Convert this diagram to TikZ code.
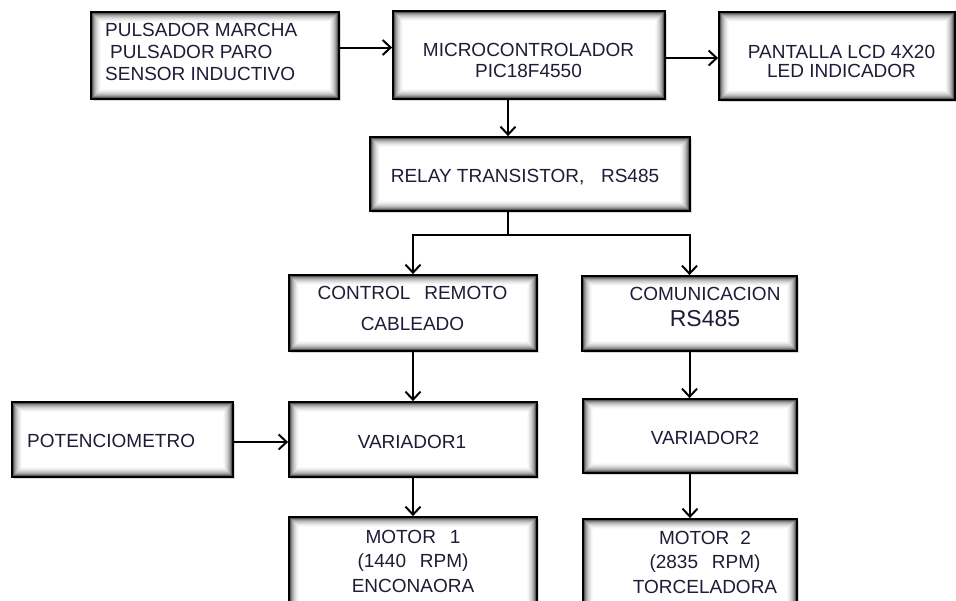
\documentclass[tikz,border=0pt]{standalone}
\usepackage{fontspec}
\setmainfont{Liberation Sans}
\usetikzlibrary{arrows.meta,shadows,calc}
\definecolor{txt}{RGB}{30,28,55}
\tikzset{
 blk/.style={draw=black, line width=1.8pt, fill=white, rectangle, inner sep=0pt,
   drop shadow={shadow xshift=1.5pt, shadow yshift=-1.5pt, opacity=0.15, fill=black},
   path picture={
     \foreach \i/\c in {1.5/65,2.5/48,3.5/36,4.5/27,5.5/20,6.5/14,7.5/9,8.5/5,9.5/2}{
       \draw[black!\c, line width=1.1pt] ([shift={(\i pt,-\i pt)}]path picture bounding box.north west) rectangle ([shift={(-\i pt,\i pt)}]path picture bounding box.south east);
     }
   }},
 lbl/.style={text=txt, font=\fontsize{19}{22}\selectfont, inner sep=0pt, align=center},
 conn/.style={line width=2pt, -{Straight Barb[length=8pt,width=15pt]}},
 wire/.style={line width=2pt},
}
\begin{document}
\begin{tikzpicture}[x=1pt,y=-1pt]
\useasboundingbox (0,0) rectangle (956,600);
% boxes
\node[blk, minimum width=248pt, minimum height=87pt] (pul) at (215,55.5) {};
\node[blk, minimum width=272pt, minimum height=88pt] (mic) at (529,55) {};
\node[blk, minimum width=236pt, minimum height=88pt] (lcd) at (837,56) {};
\node[blk, minimum width=320pt, minimum height=74pt] (rel) at (530,174) {};
\node[blk, minimum width=248pt, minimum height=76pt] (con) at (413,313) {};
\node[blk, minimum width=215pt, minimum height=75pt] (com) at (689.5,313.5) {};
\node[blk, minimum width=221pt, minimum height=75pt] (pot) at (122.5,439.5) {};
\node[blk, minimum width=248pt, minimum height=75pt] (var1) at (413,439.5) {};
\node[blk, minimum width=214pt, minimum height=74pt] (var2) at (690,436) {};
\node[blk, minimum width=248pt, minimum height=96pt] (mot1) at (413,565) {};
\node[blk, minimum width=214pt, minimum height=94pt] (mot2) at (690,566) {};
% texts
\node[lbl, align=left, anchor=west] (tpul) at (105,51.5) {PULSADOR MARCHA\\\hspace*{5pt}PULSADOR PARO\\SENSOR INDUCTIVO};
\node[lbl, font=\fontsize{19}{21.5}\selectfont] (tmic) at (528.5,60.5) {MICROCONTROLADOR\\PIC18F4550};
\node[lbl, font=\fontsize{19}{19.5}\selectfont] (tlcd) at (841.5,61.5) {PANTALLA LCD 4X20\\LED INDICADOR};
\node[lbl] (trel) at (525,177) {RELAY TRANSISTOR,\hspace{0.6em} RS485};
\node[lbl, font=\fontsize{19}{31}\selectfont] (tcon) at (412.5,308) {CONTROL\hspace{0.45em} REMOTO\\CABLEADO};
\node[lbl] (tcom) at (705,306.5) {COMUNICACION\\[4pt]{\fontsize{23}{25}\selectfont RS485}};
\node[lbl, anchor=west] (tpot) at (27,441) {POTENCIOMETRO};
\node[lbl] (tvar1) at (412,441.5) {VARIADOR1};
\node[lbl] (tvar2) at (705,438) {VARIADOR2};
\node[lbl, font=\fontsize{19}{24.5}\selectfont] (tmot1) at (413,561) {MOTOR\hspace{0.45em} 1\\(1440\hspace{0.45em} RPM)\\ENCONAORA};
\node[lbl, font=\fontsize{19}{24.5}\selectfont] (tmot2) at (705,562) {MOTOR\hspace{0.3em} 2\\(2835\hspace{0.45em} RPM)\\TORCELADORA};
% connectors
\draw[conn] ([yshift=8pt]pul.east) -- ([yshift=8pt]pul.east -| mic.west);
\draw[conn] ([yshift=-3pt]mic.east) -- ([yshift=-3pt]mic.east -| lcd.west);
\draw[conn] ([xshift=-21pt]mic.south) -- ([xshift=-21pt]mic.south |- rel.north);
\coordinate (j) at (508,235);
\draw[wire] (j |- rel.south) -- (j);
\draw[conn] (j) -| (con.north);
\draw[conn] (j) -| (com.north);
\draw[conn] (con.south) -- (con.south |- var1.north);
\draw[conn] (com.south) -- (com.south |- var2.north);
\draw[conn] ([yshift=-2.5pt]pot.east) -- ([yshift=-2.5pt]pot.east -| var1.west);
\draw[conn] (var1.south) -- (var1.south |- mot1.north);
\draw[conn] (var2.south) -- (var2.south |- mot2.north);
\end{tikzpicture}
\end{document}
